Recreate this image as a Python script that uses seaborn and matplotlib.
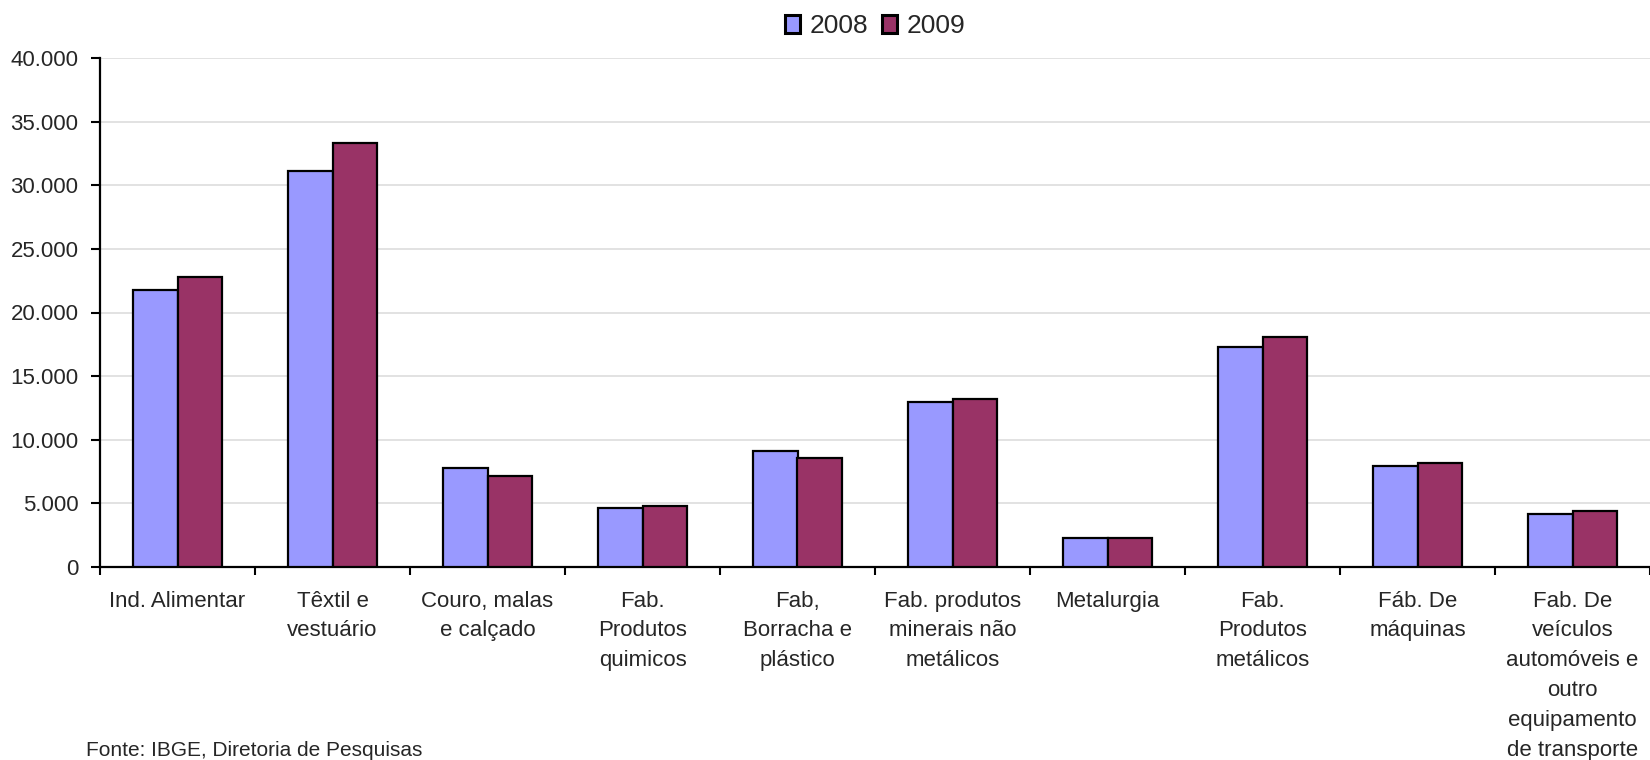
import matplotlib
matplotlib.use("Agg")
import matplotlib.pyplot as plt
from matplotlib.ticker import FuncFormatter, FixedLocator
import pandas as pd
import seaborn as sns

# Pessoal ocupado por setor da indústria, 2008 e 2009
setores = [
    "Ind. Alimentar",
    "Têxtil e\nvestuário",
    "Couro, malas\ne calçado",
    "Fab.\nProdutos\nquimicos",
    "Fab,\nBorracha e\nplástico",
    "Fab. produtos\nminerais não\nmetálicos",
    "Metalurgia",
    "Fab.\nProdutos\nmetálicos",
    "Fáb. De\nmáquinas",
    "Fab. De\nveículos\nautomóveis e\noutro\nequipamento\nde transporte",
]
valores_2008 = [21800, 31150, 7770, 4660, 9140, 13000, 2300, 17250, 7960, 4200]
valores_2009 = [22800, 33300, 7170, 4820, 8530, 13200, 2300, 18100, 8160, 4380]
anos = ["2008", "2009"]
cores = ["#9999FF", "#993366"]
yticks = [0, 5000, 10000, 15000, 20000, 25000, 30000, 35000, 40000]

df = pd.DataFrame({"setor": setores, "2008": valores_2008, "2009": valores_2009})
df = df.melt(id_vars="setor", value_vars=anos, var_name="ano", value_name="valor")

sns.set_theme(style="white")
plt.rcParams["font.family"] = ["Liberation Sans", "DejaVu Sans"]

fig = plt.figure(figsize=(16.5, 7.6), dpi=100)
ax = fig.add_axes([100 / 1650, 1 - 567 / 760, 1550 / 1650, (567 - 58) / 760])

sns.barplot(
    data=df, x="setor", y="valor", hue="ano", order=setores, hue_order=anos,
    palette=cores, saturation=1, width=0.58, gap=0,
    edgecolor="black", linewidth=1.6, ax=ax, zorder=3,
)

handles, labels = ax.get_legend_handles_labels()
ax.get_legend().remove()

ax.set_xlim(-0.5, len(setores) - 0.5)
ax.set_ylim(0, 40000)
ax.set_xlabel("")
ax.set_ylabel("")

# y axis: thousands separated by a dot
ax.yaxis.set_major_locator(FixedLocator(yticks))
ax.yaxis.set_major_formatter(FuncFormatter(lambda v, p: f"{int(v):,}".replace(",", ".")))
ax.grid(axis="y", color="#e2e2e2", linewidth=1.4, zorder=0)
ax.set_axisbelow(True)

# x axis: tick marks between groups, labels centred under each group
ax.xaxis.set_major_locator(FixedLocator([i - 0.5 for i in range(len(setores) + 1)]))
ax.xaxis.set_major_formatter(FuncFormatter(lambda v, p: ""))
ax.xaxis.set_minor_locator(FixedLocator(list(range(len(setores)))))
ax.set_xticklabels(setores, minor=True, fontsize=16, linespacing=1.55,
                   ha="center", va="top")

ax.tick_params(axis="x", which="major", direction="out", length=6, width=1.5,
               color="black", bottom=True)
ax.tick_params(axis="x", which="minor", length=0, pad=17, bottom=True)
ax.tick_params(axis="y", which="major", direction="out", length=6.5, width=1.5,
               color="black", left=True, labelsize=16, pad=9)

for side in ["top", "right"]:
    ax.spines[side].set_visible(False)
for side in ["left", "bottom"]:
    ax.spines[side].set_color("black")
    ax.spines[side].set_linewidth(1.6)

fig.legend(handles, labels, loc="center", bbox_to_anchor=(875 / 1650, 1 - 26 / 760),
           ncol=2, frameon=False, fontsize=19, handlelength=0.6, handleheight=0.7,
           handletextpad=0.35, columnspacing=0.5, borderpad=0)
for h in fig.legends[0].get_patches():
    h.set_linewidth(2.2)

fig.text(86 / 1650, 1 - 750 / 760, "Fonte: IBGE, Diretoria de Pesquisas",
         fontsize=15, ha="left", va="center")

fig.savefig("out.png", dpi=100, facecolor="white")
